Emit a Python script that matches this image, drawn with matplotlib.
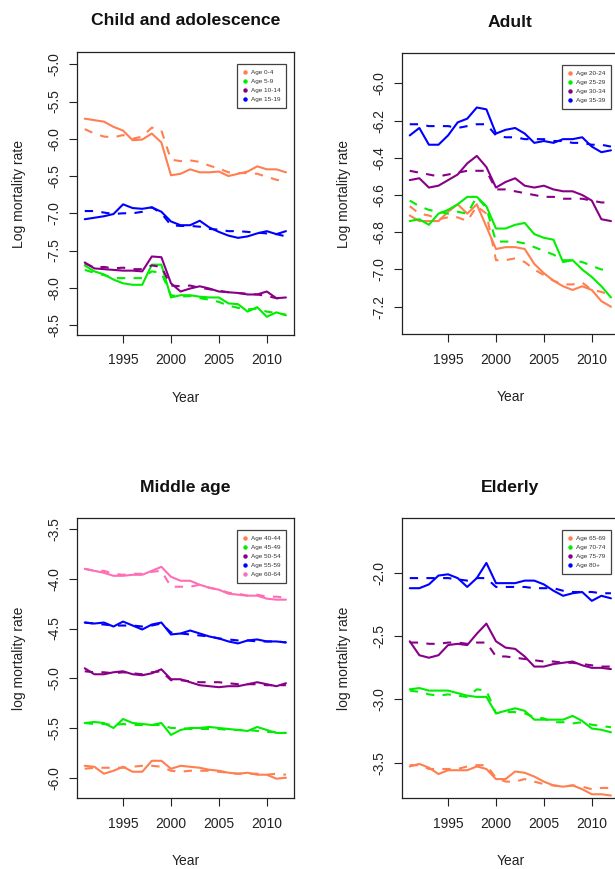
import matplotlib
matplotlib.use('Agg')
import matplotlib.pyplot as plt
from matplotlib.lines import Line2D

plt.rcParams['font.family'] = ['Liberation Sans', 'DejaVu Sans']
plt.rcParams['axes.unicode_minus'] = False

years = list(range(1991, 2013))

# ---------------- Child and adolescence ----------------
child_labels = ['Age 0-4', 'Age 5-9', 'Age 10-14', 'Age 15-19']
child_obs_0_4 = [-5.73, -5.75, -5.77, -5.84, -5.89, -6.02, -6.01, -5.93, -6.05, -6.49, -6.47,
                 -6.41, -6.45, -6.45, -6.44, -6.50, -6.47, -6.44, -6.37, -6.41, -6.41, -6.45]
child_fit_0_4 = [-5.87, -5.93, -5.97, -5.98, -5.95, -6.00, -5.97, -5.85, -5.89, -6.28, -6.30,
                 -6.29, -6.31, -6.36, -6.40, -6.45, -6.46, -6.46, -6.47, -6.51, -6.55, -6.58]
child_obs_5_9 = [-7.70, -7.78, -7.82, -7.89, -7.94, -7.96, -7.96, -7.69, -7.69, -8.13, -8.10,
                 -8.10, -8.12, -8.13, -8.13, -8.21, -8.22, -8.32, -8.26, -8.39, -8.33, -8.37]
child_fit_5_9 = [-7.76, -7.80, -7.83, -7.87, -7.87, -7.87, -7.87, -7.78, -7.80, -8.10, -8.12,
                 -8.11, -8.14, -8.16, -8.19, -8.24, -8.27, -8.29, -8.28, -8.32, -8.34, -8.36]
child_obs_10_14 = [-7.66, -7.74, -7.75, -7.76, -7.77, -7.77, -7.78, -7.58, -7.59, -7.94, -8.05,
                   -8.01, -7.98, -8.01, -8.05, -8.06, -8.07, -8.09, -8.09, -8.05, -8.14, -8.13]
child_fit_10_14 = [-7.67, -7.73, -7.72, -7.74, -7.73, -7.75, -7.75, -7.70, -7.72, -7.97, -7.98,
                   -7.97, -8.00, -8.02, -8.04, -8.06, -8.07, -8.08, -8.09, -8.11, -8.14, -8.15]
child_obs_15_19 = [-7.08, -7.06, -7.04, -7.01, -6.88, -6.93, -6.94, -6.92, -6.98, -7.11, -7.16,
                   -7.16, -7.10, -7.19, -7.25, -7.30, -7.33, -7.31, -7.27, -7.24, -7.28, -7.24]
child_fit_15_19 = [-6.97, -6.97, -6.99, -7.01, -7.00, -7.00, -6.98, -6.92, -7.00, -7.16, -7.17,
                   -7.17, -7.18, -7.21, -7.22, -7.24, -7.24, -7.25, -7.26, -7.27, -7.28, -7.31]

# ---------------- Adult ----------------
adult_labels = ['Age 20-24', 'Age 25-29', 'Age 30-34', 'Age 35-39']
adult_obs_20_24 = [-6.71, -6.74, -6.74, -6.74, -6.69, -6.65, -6.70, -6.65, -6.77, -6.89, -6.88,
                   -6.88, -6.89, -6.97, -7.02, -7.06, -7.09, -7.11, -7.09, -7.11, -7.17, -7.20]
adult_fit_20_24 = [-6.66, -6.70, -6.71, -6.73, -6.72, -6.72, -6.74, -6.66, -6.70, -6.95, -6.95,
                   -6.94, -6.96, -7.00, -7.03, -7.06, -7.08, -7.08, -7.07, -7.11, -7.12, -7.14]
adult_obs_25_29 = [-6.74, -6.73, -6.76, -6.70, -6.68, -6.65, -6.61, -6.61, -6.66, -6.78, -6.78,
                   -6.76, -6.75, -6.81, -6.83, -6.84, -6.96, -6.95, -7.00, -7.04, -7.09, -7.15]
adult_fit_25_29 = [-6.63, -6.66, -6.68, -6.69, -6.70, -6.69, -6.70, -6.61, -6.67, -6.85, -6.85,
                   -6.85, -6.86, -6.88, -6.90, -6.92, -6.95, -6.95, -6.96, -6.98, -7.00, -7.00]
adult_obs_30_34 = [-6.52, -6.51, -6.56, -6.55, -6.52, -6.49, -6.43, -6.39, -6.45, -6.56, -6.53,
                   -6.51, -6.55, -6.56, -6.55, -6.57, -6.58, -6.58, -6.60, -6.63, -6.73, -6.74]
adult_fit_30_34 = [-6.47, -6.48, -6.49, -6.50, -6.49, -6.48, -6.47, -6.47, -6.47, -6.57, -6.57,
                   -6.58, -6.59, -6.60, -6.61, -6.61, -6.62, -6.62, -6.62, -6.63, -6.64, -6.64]
adult_obs_35_39 = [-6.28, -6.24, -6.33, -6.33, -6.28, -6.21, -6.19, -6.13, -6.14, -6.27, -6.25,
                   -6.24, -6.27, -6.32, -6.31, -6.32, -6.30, -6.30, -6.29, -6.34, -6.37, -6.36]
adult_fit_35_39 = [-6.22, -6.22, -6.23, -6.23, -6.23, -6.24, -6.23, -6.22, -6.22, -6.28, -6.29,
                   -6.29, -6.30, -6.30, -6.30, -6.31, -6.31, -6.32, -6.32, -6.33, -6.33, -6.34]

# ---------------- Middle age ----------------
middle_labels = ['Age 40-44', 'Age 45-49', 'Age 50-54', 'Age 55-59', 'Age 60-64']
middle_obs_40_44 = [-5.88, -5.89, -5.96, -5.93, -5.89, -5.94, -5.94, -5.83, -5.83, -5.91, -5.88,
                    -5.89, -5.90, -5.92, -5.93, -5.95, -5.96, -5.95, -5.97, -5.97, -6.01, -6.00]
middle_fit_40_44 = [-5.91, -5.90, -5.90, -5.90, -5.90, -5.89, -5.88, -5.88, -5.89, -5.93, -5.94,
                    -5.93, -5.93, -5.93, -5.94, -5.95, -5.96, -5.96, -5.96, -5.97, -5.96, -5.97]
middle_obs_45_49 = [-5.45, -5.44, -5.45, -5.50, -5.41, -5.45, -5.46, -5.47, -5.45, -5.57, -5.52,
                    -5.50, -5.50, -5.49, -5.50, -5.51, -5.52, -5.53, -5.49, -5.52, -5.55, -5.55]
middle_fit_45_49 = [-5.45, -5.46, -5.46, -5.47, -5.46, -5.47, -5.47, -5.47, -5.47, -5.50, -5.50,
                    -5.51, -5.51, -5.51, -5.51, -5.52, -5.52, -5.52, -5.53, -5.54, -5.54, -5.55]
middle_obs_50_54 = [-4.90, -4.96, -4.96, -4.94, -4.93, -4.96, -4.97, -4.95, -4.91, -5.01, -5.01,
                    -5.04, -5.07, -5.08, -5.09, -5.08, -5.08, -5.06, -5.04, -5.06, -5.08, -5.05]
middle_fit_50_54 = [-4.93, -4.94, -4.94, -4.95, -4.94, -4.95, -4.96, -4.94, -4.93, -5.02, -5.02,
                    -5.03, -5.04, -5.04, -5.04, -5.05, -5.06, -5.06, -5.06, -5.07, -5.07, -5.07]
middle_obs_55_59 = [-4.44, -4.45, -4.44, -4.48, -4.43, -4.47, -4.51, -4.46, -4.44, -4.56, -4.55,
                    -4.52, -4.55, -4.58, -4.60, -4.63, -4.65, -4.62, -4.61, -4.63, -4.63, -4.64]
middle_fit_55_59 = [-4.44, -4.45, -4.46, -4.47, -4.47, -4.47, -4.48, -4.47, -4.45, -4.54, -4.55,
                    -4.56, -4.57, -4.58, -4.60, -4.61, -4.62, -4.62, -4.63, -4.63, -4.63, -4.64]
middle_obs_60_64 = [-3.90, -3.92, -3.94, -3.97, -3.97, -3.96, -3.96, -3.92, -3.88, -3.98, -4.02,
                    -4.02, -4.06, -4.09, -4.11, -4.15, -4.16, -4.17, -4.17, -4.20, -4.21, -4.21]
middle_fit_60_64 = [-3.90, -3.92, -3.92, -3.95, -3.96, -3.95, -3.95, -3.93, -3.92, -4.08, -4.08,
                    -4.08, -4.06, -4.09, -4.11, -4.14, -4.15, -4.17, -4.16, -4.18, -4.18, -4.19]

# ---------------- Elderly ----------------
elderly_labels = ['Age 65-69', 'Age 70-74', 'Age 75-79', 'Age 80+']
elderly_obs_65_69 = [-3.53, -3.51, -3.54, -3.59, -3.56, -3.56, -3.56, -3.53, -3.55, -3.63, -3.63,
                     -3.57, -3.58, -3.61, -3.65, -3.68, -3.69, -3.68, -3.71, -3.75, -3.75, -3.76]
elderly_fit_65_69 = [-3.52, -3.52, -3.55, -3.55, -3.55, -3.55, -3.53, -3.52, -3.52, -3.62, -3.65,
                     -3.65, -3.63, -3.65, -3.67, -3.68, -3.69, -3.68, -3.69, -3.71, -3.70, -3.70]
elderly_obs_70_74 = [-2.92, -2.91, -2.93, -2.93, -2.93, -2.95, -2.97, -2.98, -2.98, -3.11, -3.09,
                     -3.07, -3.09, -3.16, -3.16, -3.16, -3.16, -3.13, -3.17, -3.23, -3.24, -3.26]
elderly_fit_70_74 = [-2.93, -2.94, -2.96, -2.97, -2.96, -2.97, -2.98, -2.92, -2.93, -3.11, -3.10,
                     -3.10, -3.11, -3.14, -3.15, -3.18, -3.18, -3.19, -3.18, -3.20, -3.21, -3.22]
elderly_obs_75_79 = [-2.54, -2.65, -2.67, -2.65, -2.57, -2.56, -2.57, -2.48, -2.40, -2.54, -2.59,
                     -2.60, -2.66, -2.74, -2.74, -2.72, -2.71, -2.70, -2.73, -2.75, -2.75, -2.76]
elderly_fit_75_79 = [-2.55, -2.55, -2.56, -2.56, -2.55, -2.55, -2.56, -2.55, -2.55, -2.66, -2.66,
                     -2.67, -2.68, -2.69, -2.70, -2.70, -2.71, -2.71, -2.72, -2.73, -2.74, -2.74]
elderly_obs_80 = [-2.12, -2.12, -2.09, -2.02, -2.01, -2.04, -2.11, -2.04, -1.92, -2.08, -2.08,
                  -2.08, -2.06, -2.06, -2.09, -2.14, -2.18, -2.16, -2.15, -2.22, -2.18, -2.20]
elderly_fit_80 = [-2.04, -2.04, -2.04, -2.04, -2.04, -2.05, -2.06, -2.04, -2.04, -2.11, -2.11,
                  -2.11, -2.11, -2.12, -2.12, -2.12, -2.14, -2.15, -2.15, -2.15, -2.16, -2.16]

colors4 = ['#FF7F50', '#00EE00', '#880088', '#0000FF']
colors5 = ['#FF7F50', '#00EE00', '#880088', '#0000FF', '#FF6EB4']

W, H = 615, 869
fig = plt.figure(figsize=(W / 100, H / 100), dpi=100)


def make_axes(left_px, top_px, right_px, bottom_px):
    return fig.add_axes([left_px / W, 1 - bottom_px / H,
                         (right_px - left_px) / W, (bottom_px - top_px) / H])


def panel(ax, title, ylabel, ylim, yticks, obs_list, fit_list, labels, colors):
    for obs, fit, c in zip(obs_list, fit_list, colors):
        ax.plot(years, obs, color=c, lw=1.5, solid_joinstyle='round', solid_capstyle='round')
        ax.plot(years, fit, color=c, lw=1.5, linestyle=(0, (4, 4)), dash_capstyle='butt')
    ax.set_xlim(1990.16, 2012.84)
    ax.set_ylim(*ylim)
    ax.set_xticks([1995, 2000, 2005, 2010])
    ax.set_xticklabels(['1995', '2000', '2005', '2010'])
    ax.set_yticks(yticks)
    ax.set_yticklabels(['%.1f' % v for v in yticks], rotation=90, va='center')
    ax.tick_params(axis='both', direction='out', length=5.8, width=0.8,
                   labelsize=10, colors='#222222', labelcolor='#222222')
    ax.tick_params(axis='x', pad=7.5)
    ax.tick_params(axis='y', pad=5.5)
    for sp in ax.spines.values():
        sp.set_linewidth(0.9)
        sp.set_color('#222222')
    ax.text(0.5, 1.095, title, transform=ax.transAxes, ha='center', va='baseline',
            fontsize=12.6, fontweight='bold', color='#111111')
    ax.text(0.5, -0.237, 'Year', transform=ax.transAxes, ha='center', va='baseline',
            fontsize=10, color='#222222')
    ax.text(-0.247, 0.5, ylabel, transform=ax.transAxes, ha='center', va='baseline',
            rotation=90, rotation_mode='anchor', fontsize=10, color='#222222')
    handles = [Line2D([], [], marker='o', linestyle='none', color=c, markersize=2.2)
               for c in colors]
    leg = ax.legend(handles, labels, loc='upper right', bbox_to_anchor=(0.963, 0.958),
                    fontsize=4.6, frameon=True, fancybox=False, borderpad=0.9,
                    labelspacing=0.55, handlelength=0.8, handletextpad=0.5,
                    borderaxespad=0.0, labelcolor='#333333')
    leg.get_frame().set_edgecolor('#111111')
    leg.get_frame().set_linewidth(0.9)


ax1 = make_axes(76.7, 52.3, 294.0, 335.0)
panel(ax1, 'Child and adolescence', 'Log mortality rate', (-8.634, -4.839),
      [-5.0, -5.5, -6.0, -6.5, -7.0, -7.5, -8.0, -8.5],
      [child_obs_0_4, child_obs_5_9, child_obs_10_14, child_obs_15_19],
      [child_fit_0_4, child_fit_5_9, child_fit_10_14, child_fit_15_19],
      child_labels, colors4)

ax2 = make_axes(401.7, 53.3, 619.0, 334.3)
panel(ax2, 'Adult', 'Log mortality rate', (-7.348, -5.839),
      [-6.0, -6.2, -6.4, -6.6, -6.8, -7.0, -7.2],
      [adult_obs_20_24, adult_obs_25_29, adult_obs_30_34, adult_obs_35_39],
      [adult_fit_20_24, adult_fit_25_29, adult_fit_30_34, adult_fit_35_39],
      adult_labels, colors4)

ax3 = make_axes(76.7, 518.3, 294.0, 798.3)
panel(ax3, 'Middle age', 'log mortality rate', (-6.207, -3.392),
      [-3.5, -4.0, -4.5, -5.0, -5.5, -6.0],
      [middle_obs_40_44, middle_obs_45_49, middle_obs_50_54, middle_obs_55_59, middle_obs_60_64],
      [middle_fit_40_44, middle_fit_45_49, middle_fit_50_54, middle_fit_55_59, middle_fit_60_64],
      middle_labels, colors5)

ax4 = make_axes(401.7, 518.3, 619.0, 798.3)
panel(ax4, 'Elderly', 'log mortality rate', (-3.782, -1.567),
      [-2.0, -2.5, -3.0, -3.5],
      [elderly_obs_65_69, elderly_obs_70_74, elderly_obs_75_79, elderly_obs_80],
      [elderly_fit_65_69, elderly_fit_70_74, elderly_fit_75_79, elderly_fit_80],
      elderly_labels, colors4)

fig.savefig('out.png', dpi=100, facecolor='white')
